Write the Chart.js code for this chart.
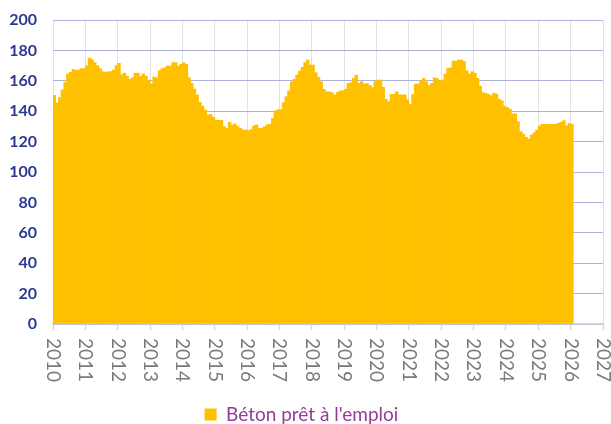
<!DOCTYPE html>
<html>
<head>
<meta charset="utf-8">
<script src="https://cdn.jsdelivr.net/npm/chart.js@4/dist/chart.umd.min.js"></script>
<style>
html,body{margin:0;padding:0;background:#fff;}
#c{display:block;}
</style>
</head>
<body>
<canvas id="c" width="611" height="424"></canvas>
<script>
// ---- DATA ----
const seriesName = "Béton prêt à l'emploi";
const yearLabels = ['2010','2011','2012','2013','2014','2015','2016','2017','2018','2019','2020','2021','2022','2023','2024','2025','2026','2027'];
const yTickValues = [0,20,40,60,80,100,120,140,160,180,200];
// monthly values, January..December of each year
const v2010 = [150.5,145.5,149,154,159,164.5,165.5,167.5,167,167,168,168];
const v2011 = [170,175,174,172,170,168,166,165.5,166,166,167,170];
const v2012 = [171.5,164,165,163,161,162,165,165,163,164.5,163,160.5];
const v2013 = [158,162.5,162,166.5,168,168.6,169.7,169.7,172,172,169.7,170.8];
const v2014 = [172,170.8,162,158.3,154.6,150.7,145.8,143.4,140.8,137.5,137.9,136];
const v2015 = [134.2,134,134,129.8,128.7,132.7,130.9,131.6,130,128.7,127.6,127.6];
const v2016 = [127.2,128,130.3,131,128.7,128.7,129.8,131,131.4,135.3,140.3,141];
const v2017 = [141,145.6,149.5,153.5,159.4,161,163.8,166.4,168.9,172,173.7,170.4];
const v2018 = [170.4,165.4,162.3,159.4,154.4,152.8,152.8,152.2,150.7,152.2,153.3,153.5];
const v2019 = [154.4,158.3,158.8,161.6,163.8,158.3,159.4,157.9,158.3,157,155.7,159.4];
const v2020 = [160.5,160.5,155.7,147.8,146.3,151.1,151.1,152.8,150.7,150.7,150.7,147.4];
const v2021 = [144.5,151,157.9,157.9,160,161.6,159.4,157,158.3,162,161.5,160];
const v2022 = [160.5,164.5,168.2,168.6,173,173,173.7,173.7,172.6,166.7,164.5,166];
const v2023 = [165,161.6,156.6,152.2,151.8,151.1,150.2,151.8,151.3,148,146.9,143.4];
const v2024 = [142.5,141.4,138.2,138.2,133.1,126.5,125,122.8,121.7,124.3,125.9,127.6];
const v2025 = [130.3,131.4,131.4,131.4,131.4,131.4,131.4,132,132.7,133.8,130.3,132];
const v2026 = [131.4];
const yearlySeries = [v2010,v2011,v2012,v2013,v2014,v2015,v2016,v2017,v2018,v2019,v2020,v2021,v2022,v2023,v2024,v2025,v2026];

// build points: x = decimal year (middle of month)
const points = [];
yearlySeries.forEach((arr, i) => {
  const yr = Number(yearLabels[i]);
  arr.forEach((v, m) => points.push({x: yr + (m + 0.5) / 12, y: v}));
});

const BOTTOM_PAD = -10;
const PLOT_BOTTOM = 324;
const X_LABEL_FONT = '19px Lato';
const xLabelsPlugin = {
  id: 'xLabels',
  afterDraw(chart) {
    const sc = chart.scales.x;
    const ctx = chart.ctx;
    ctx.save();
    ctx.font = X_LABEL_FONT;
    ctx.fillStyle = '#7a7a7a';
    ctx.textAlign = 'left';
    ctx.textBaseline = 'middle';
    yearLabels.forEach(l => {
      const px = sc.getPixelForValue(Number(l));
      ctx.save();
      ctx.translate(px, sc.top + 14);
      ctx.rotate(Math.PI / 2);
      ctx.fillText(l, 0, 0);
      ctx.restore();
    });
    ctx.restore();
  }
};

new Chart(document.getElementById('c'), {
  type: 'bar',
  data: {
    datasets: [{
      label: seriesName,
      data: points,
      backgroundColor: '#FFC000',
      borderWidth: 0,
      barPercentage: 1,
      categoryPercentage: 1
    }]
  },
  options: {
    responsive: false,
    animation: false,
    layout: {padding: {top: 20, right: 8, bottom: BOTTOM_PAD, left: 0}},
    plugins: {
      legend: {
        position: 'bottom',
        labels: {
          boxWidth: 12, boxHeight: 12, padding: 1,
          color: '#963c96',
          font: {family: 'Lato', size: 19}
        }
      },
      tooltip: {enabled: false}
    },
    scales: {
      x: {
        type: 'linear',
        offset: false,
        min: Number(yearLabels[0]),
        max: Number(yearLabels[yearLabels.length - 1]),
        ticks: {display: false, stepSize: 1, includeBounds: false},
        grid: {
          offset: false,
          color: '#e2e2e2', lineWidth: 1, borderDash: [2, 2],
          drawTicks: true, tickLength: 6, tickColor: '#d9d9d9', tickBorderDash: [], tickWidth: 1.5
        },
        border: {display: true, color: '#d9d9d9', width: 1.5},
        afterFit(s) { s.height = s.chart.height - BOTTOM_PAD - PLOT_BOTTOM - (s.chart.legend ? s.chart.legend.height : 0); }
      },
      y: {
        min: 0, max: 200,
        afterBuildTicks(s) { s.ticks = yTickValues.map(v => ({value: v})); },
        ticks: {
          padding: 0,
          color: '#2b3990',
          font: {family: 'Lato', size: 16, weight: 'bold'}
        },
        grid: {color: '#aeb1da', lineWidth: 1, drawTicks: true, tickLength: 16, tickColor: 'rgba(0,0,0,0)'},
        border: {display: false},
        afterFit(s) { s.width = 53; }
      }
    }
  },
  plugins: [xLabelsPlugin]
});
</script>
</body>
</html>
